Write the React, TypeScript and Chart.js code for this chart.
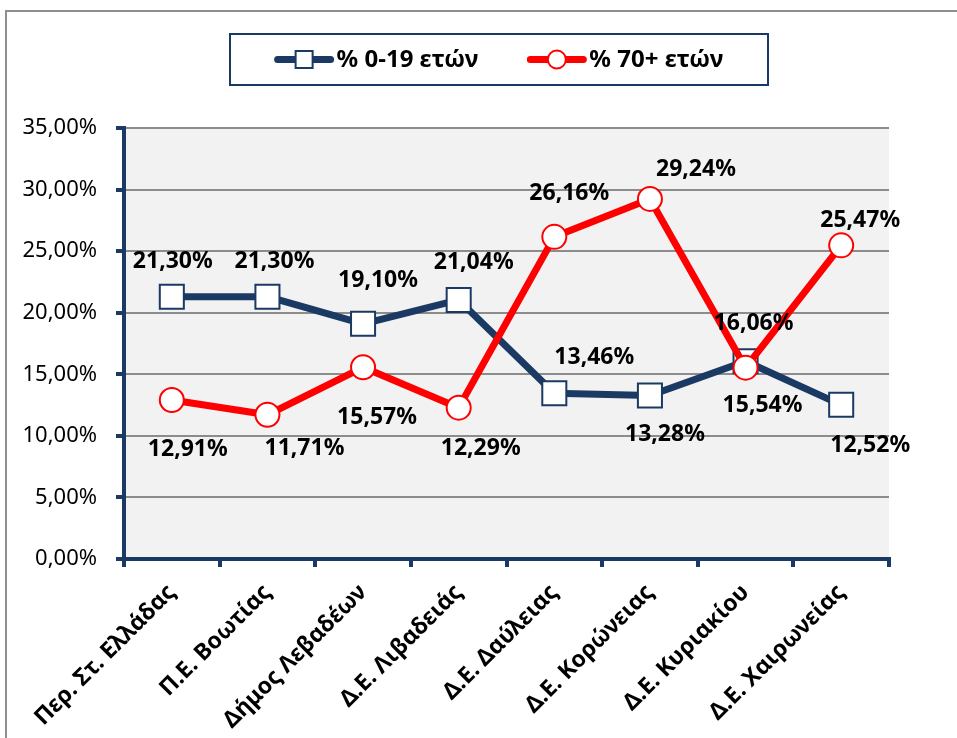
import React, { useEffect, useRef } from 'react';
import { Chart, registerables } from 'chart.js';

Chart.register(...registerables);

// ---- data ----
const categories = [
  'Περ. Στ. Ελλάδας',
  'Π.Ε. Βοωτίας',
  'Δήμος Λεβαδέων',
  'Δ.Ε. Λιβαδειάς',
  'Δ.Ε. Δαύλειας',
  'Δ.Ε. Κορώνειας',
  'Δ.Ε. Κυριακίου',
  'Δ.Ε. Χαιρωνείας',
];
const youngLabel = '% 0-19 ετών';
const oldLabel = '% 70+ ετών';
const youngValues = [21.3, 21.3, 19.1, 21.04, 13.46, 13.28, 16.06, 12.52];
const oldValues = [12.91, 11.71, 15.57, 12.29, 26.16, 29.24, 15.54, 25.47];
const yMin = 0;
const yMax = 35;
const yStep = 5;

// ---- label placement (pixel offsets from each point) ----
const youngLabelOffsets = [[1, -35], [7, -35], [15, -43], [15, -37], [40, -36], [15, 39], [8, -38], [29, 41]];
const oldLabelOffsets = [[16, 49], [37, 34], [14, 50], [22, 41], [15, -43], [46, -29], [17, 38], [19, -25]];

const NAVY = '#1b3a63';
const RED = '#ff0000';
const FONT = '"Noto Sans", "Open Sans", "DejaVu Sans", sans-serif';
const W = 957;
const H = 738;

const fmt = (v: number) => v.toFixed(2).replace('.', ',') + '%';

const bgPlugin = {
  id: 'bgPlugin',
  beforeDraw(chart: any) {
    const { ctx, chartArea } = chart;
    ctx.save();
    ctx.fillStyle = '#ffffff';
    ctx.fillRect(0, 0, chart.width, chart.height);
    // outer frame
    ctx.strokeStyle = '#8f8f8f';
    ctx.lineWidth = 2;
    ctx.strokeRect(6, 11, chart.width + 20, chart.height + 20);
    ctx.fillStyle = '#f2f2f2';
    ctx.fillRect(chartArea.left, chartArea.top, chartArea.right - chartArea.left, chartArea.bottom - chartArea.top);
    ctx.restore();
  },
};

const labelPlugin = {
  id: 'labelPlugin',
  afterDatasetsDraw(chart: any) {
    const { ctx } = chart;
    ctx.save();
    ctx.font = `bold 23px ${FONT}`;
    ctx.fillStyle = '#000000';
    ctx.textAlign = 'center';
    ctx.textBaseline = 'middle';
    chart.data.datasets.forEach((ds: any, di: number) => {
      const meta = chart.getDatasetMeta(di);
      const offs = ds.labelOffsets as number[][];
      meta.data.forEach((el: any, i: number) => {
        const [dx, dy] = offs[i];
        ctx.fillText(fmt(ds.data[i]), el.x + dx, el.y + dy);
      });
    });
    ctx.restore();
  },
};

const legendPlugin = {
  id: 'legendBoxPlugin',
  afterDraw(chart: any) {
    const { ctx } = chart;
    const box = { x: 230, y: 34, w: 538, h: 51 };
    ctx.save();
    ctx.strokeStyle = NAVY;
    ctx.lineWidth = 2;
    ctx.strokeRect(box.x, box.y, box.w, box.h);
    ctx.font = `bold 24px ${FONT}`;
    const lineLen = 59;
    const gapText = 3;
    const gapItems = 49;
    const items = [chart.data.datasets[0], chart.data.datasets[1]];
    const widths = items.map((d: any) => lineLen + gapText + ctx.measureText(d.label).width);
    const total = widths[0] + widths[1] + gapItems;
    let x = box.x + box.w / 2 - total / 2;
    const cy = box.y + box.h / 2;
    items.forEach((d: any, i: number) => {
      ctx.strokeStyle = d.borderColor;
      ctx.lineWidth = 7;
      ctx.lineCap = 'round';
      ctx.beginPath();
      ctx.moveTo(x + 3, cy);
      ctx.lineTo(x + lineLen - 3, cy);
      ctx.stroke();
      const mx = x + lineLen / 2;
      ctx.fillStyle = '#ffffff';
      ctx.strokeStyle = d.pointBorderColor;
      ctx.lineWidth = 2;
      ctx.beginPath();
      if (d.pointStyle === 'rect') {
        ctx.rect(mx - 8.5, cy - 8.5, 17, 17);
      } else {
        ctx.arc(mx, cy, 9, 0, Math.PI * 2);
      }
      ctx.fill();
      ctx.stroke();
      ctx.fillStyle = '#000000';
      ctx.textAlign = 'left';
      ctx.textBaseline = 'middle';
      ctx.fillText(d.label, x + lineLen + gapText, cy + 1);
      x += widths[i] + gapItems;
    });
    ctx.restore();
  },
};

export default function App() {
  const ref = useRef<HTMLCanvasElement | null>(null);

  useEffect(() => {
    document.body.style.margin = '0';
    const canvas = ref.current;
    if (!canvas) return;
    const chart = new Chart(canvas, {
      type: 'line',
      data: {
        labels: categories,
        datasets: [
          {
            label: youngLabel,
            data: youngValues,
            borderColor: NAVY,
            backgroundColor: NAVY,
            borderWidth: 7,
            tension: 0,
            borderJoinStyle: 'round',
            pointStyle: 'rect',
            pointRadius: 17,
            pointBackgroundColor: '#ffffff',
            pointBorderColor: NAVY,
            pointBorderWidth: 2,
            order: 1,
            labelOffsets: youngLabelOffsets,
          } as any,
          {
            label: oldLabel,
            data: oldValues,
            borderColor: RED,
            backgroundColor: RED,
            borderWidth: 7,
            tension: 0,
            borderJoinStyle: 'round',
            pointStyle: 'circle',
            pointRadius: 12,
            pointBackgroundColor: '#ffffff',
            pointBorderColor: RED,
            pointBorderWidth: 2,
            order: 0,
            labelOffsets: oldLabelOffsets,
          } as any,
        ],
      },
      options: {
        responsive: false,
        animation: false,
        layout: { padding: { left: 0, top: 128, right: W - 889, bottom: 0 } },
        plugins: {
          legend: { display: false },
          tooltip: { enabled: false },
        },
        scales: {
          x: {
            type: 'category',
            offset: true,
            grid: {
              display: true,
              drawOnChartArea: false,
              drawTicks: true,
              tickLength: 8,
              offset: true,
              color: NAVY,
              lineWidth: 4,
            },
            border: { display: true, color: NAVY, width: 4 },
            ticks: {
              autoSkip: false,
              maxRotation: 45,
              minRotation: 45,
              color: '#000000',
              padding: 12,
              font: { family: FONT, size: 23, weight: 'bold' },
            },
            afterFit: (s: any) => {
              s.height = H - 559;
            },
          },
          y: {
            min: yMin,
            max: yMax,
            ticks: {
              stepSize: yStep,
              color: '#000000',
              padding: 19,
              font: { family: FONT, size: 22 },
              callback: (v: any) => fmt(Number(v)),
            },
            grid: {
              color: '#8c8c8c',
              lineWidth: 2,
              drawTicks: true,
              tickLength: 8,
              tickColor: NAVY,
              tickWidth: 4,
            },
            border: { display: true, color: NAVY, width: 4 },
            afterFit: (s: any) => {
              s.width = 124;
            },
          },
        },
      },
      plugins: [bgPlugin, labelPlugin, legendPlugin],
    });
    return () => chart.destroy();
  }, []);

  return (
    <div style={{ width: W, height: H }}>
      <canvas ref={ref} width={W} height={H} style={{ display: 'block' }} />
    </div>
  );
}
